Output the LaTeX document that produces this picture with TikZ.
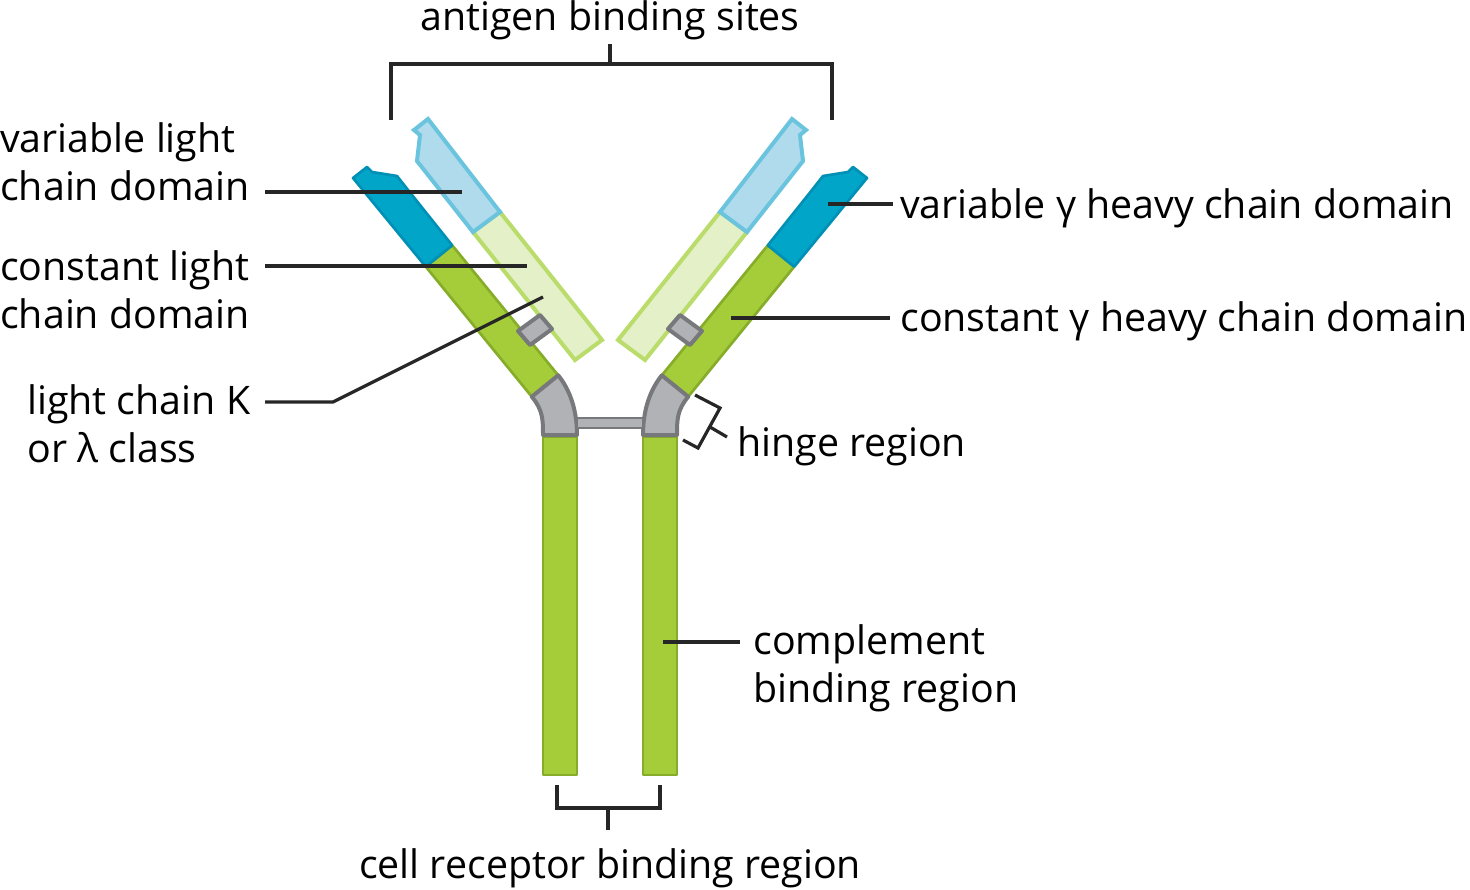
\documentclass[tikz,border=0pt]{standalone}
\usepackage{fontspec}
\setmainfont{Open Sans}
\begin{document}
\begin{tikzpicture}[x=0.75pt,y=-0.75pt,
  heavy/.style={fill=hgreen,draw=hgreenD,line width=2pt,line join=round},
  vheavy/.style={fill=hblue,draw=hblueD,line width=2pt,line join=round},
  lgreen/.style={fill=lgreenF,draw=lgreenD,line width=3pt,line join=miter},
  lblue/.style={fill=lblueF,draw=lblueD,line width=3pt,line join=miter},
  grayp/.style={fill=grayF,draw=grayD,line width=3pt,line join=round},
  lead/.style={draw=black!85,line width=2.4pt},
  lbl/.style={font=\fontsize{29.5}{36}\selectfont,inner sep=0pt,align=left}]
\definecolor{hgreen}{HTML}{A5CD39}\definecolor{hgreenD}{HTML}{86AD2A}
\definecolor{hblue}{HTML}{00A5C8}\definecolor{hblueD}{HTML}{0090B5}
\definecolor{lgreenF}{HTML}{E3F0C8}\definecolor{lgreenD}{HTML}{B9DC6A}
\definecolor{lblueF}{HTML}{B0DBEC}\definecolor{lblueD}{HTML}{6BC4DE}
\definecolor{grayF}{HTML}{B1B2B5}\definecolor{grayD}{HTML}{77787B}
\useasboundingbox (0,0) rectangle (1470,889);
\foreach \s/\o in {1/0,-1/1220}{
\begin{scope}[xshift=\o*0.75pt,xscale=\s]
 \path[heavy] (543,437) rectangle (577,775);
 \path[heavy] (531.8,396.7) -- (558.2,375.3) -- (452.2,245.3) -- (425.8,266.7) -- cycle;
 \path[vheavy] (425.8,266.7) -- (452.2,245.3) -- (408,190) -- (397,176) -- (372,172) -- (367,167) -- (353,178) -- cycle;
 \path[lgreen] (473,232) -- (500,212) -- (602,340) -- (575,360) -- cycle;
 \path[lblue] (473,232) -- (500,212) -- (428,119) -- (414,130) -- (420,135) -- (417,161) -- cycle;
 \path[grayp] (518,331) -- (540,315) -- (552,329) -- (530,345) -- cycle;
 \path[grayp] (531.8,396.7) .. controls (543,410) and (543,420) .. (543,435) -- (577,435) .. controls (577,410) and (570,390) .. (558.2,375.3) -- cycle;
\end{scope}}
\path[grayp,line width=2pt] (577,418) rectangle (643,428);
\node[lbl,anchor=base] (ab) at (610,30) {antigen binding sites};
\draw[lead] (391,120) -- (391,64) -- (832,64) -- (832,120);
\draw[lead] (610,64) -- (610,44);
\node[lbl,anchor=base west] (vl) at (0,200) {variable light\\chain domain};
\draw[lead] (265,192) -- (462,192);
\node[lbl,anchor=base west] (cl) at (0,328) {constant light\\chain domain};
\draw[lead] (265,266) -- (527,266);
\node[lbl,anchor=base west] (lc) at (27,462) {light chain K\\or λ class};
\draw[lead] (265,402) -- (333,402) -- (543,297);
\node[lbl,anchor=base west] (vh) at (900,218) {variable γ heavy chain domain};
\draw[lead] (828,204) -- (893,204);
\node[lbl,anchor=base west] (ch) at (900,331) {constant γ heavy chain domain};
\draw[lead] (731,318) -- (890,318);
\node[lbl,anchor=base west] (hr) at (737,456) {hinge region};
\draw[lead] (695,395) -- (720,408) -- (698,448) -- (683,440);
\draw[lead] (710,427) -- (727,437);
\node[lbl,anchor=base west] (cb) at (753,702) {complement\\binding region};
\draw[lead] (663,642) -- (740,642);
\draw[lead] (557,785) -- (557,808) -- (660,808) -- (660,785);
\draw[lead] (608,808) -- (608,830);
\node[lbl,anchor=base] (cr) at (610,878) {cell receptor binding region};
\end{tikzpicture}
\end{document}
